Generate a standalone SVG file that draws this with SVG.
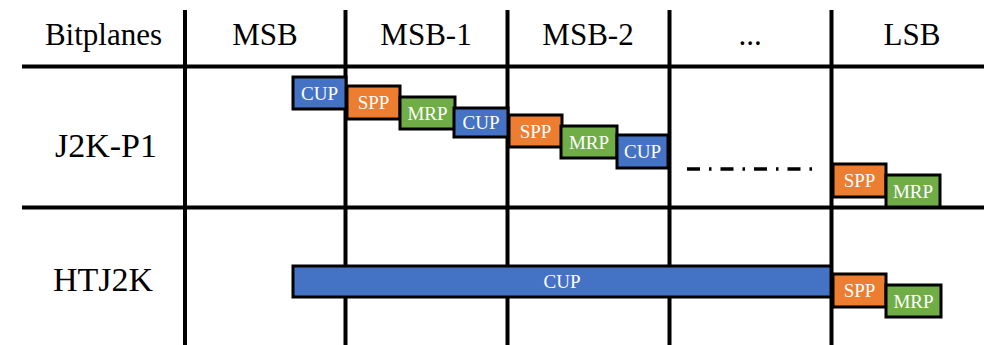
<svg xmlns="http://www.w3.org/2000/svg" width="984" height="345" viewBox="0 0 984 345">
<style>
text{font-family:'Liberation Serif','DejaVu Serif','Times New Roman',serif}
.hdr{font-size:31px;fill:#000;text-anchor:middle}
.row{font-size:34px;fill:#000;text-anchor:middle}
.lbl{font-size:19px;fill:#fff;text-anchor:middle;dominant-baseline:central}
.grid{stroke:#000;stroke-width:4;fill:none}
.cup{fill:#4472C4;stroke:#000;stroke-width:3}
.spp{fill:#ED7D31;stroke:#000;stroke-width:3}
.mrp{fill:#70AD47;stroke:#000;stroke-width:3}
.dash{stroke:#000;stroke-width:3.5;fill:none;stroke-dasharray:13 9 2.5 9}
</style>
<rect width="984" height="345" fill="#fff"/>
<g id="grid">
<line class="grid" x1="22" y1="66.5" x2="984" y2="66.5"/>
<line class="grid" x1="22" y1="207.5" x2="984" y2="207.5"/>
<line class="grid" x1="185" y1="10" x2="185" y2="345"/>
<line class="grid" x1="345.5" y1="10" x2="345.5" y2="345"/>
<line class="grid" x1="507.5" y1="10" x2="507.5" y2="345"/>
<line class="grid" x1="669.5" y1="10" x2="669.5" y2="345"/>
<line class="grid" x1="831.5" y1="10" x2="831.5" y2="345"/>
</g>
<g id="headers">
<text class="hdr" x="103.5" y="45" font-family="Liberation Serif, serif">Bitplanes</text>
<text class="hdr" x="265" y="45">MSB</text>
<text class="hdr" x="426" y="45">MSB-1</text>
<text class="hdr" x="588" y="45">MSB-2</text>
<text class="hdr" x="750" y="45">...</text>
<text class="hdr" x="912" y="45">LSB</text>
</g>
<g id="rowlabels">
<text class="row" x="106" y="157">J2K-P1</text>
<text class="row" x="103" y="291">HTJ2K</text>
</g>
<g id="j2k-cup1"><rect class="cup" x="293" y="77" width="53" height="32"/><text class="lbl" x="319.5" y="93">CUP</text></g>
<g id="j2k-spp1"><rect class="spp" x="347" y="86" width="53" height="33"/><text class="lbl" x="373.5" y="102.5">SPP</text></g>
<g id="j2k-mrp1"><rect class="mrp" x="400" y="97" width="55" height="32"/><text class="lbl" x="427.5" y="113">MRP</text></g>
<g id="j2k-cup2"><rect class="cup" x="454" y="108" width="54" height="29"/><text class="lbl" x="481" y="122.5">CUP</text></g>
<g id="j2k-spp2"><rect class="spp" x="509" y="115" width="53" height="32"/><text class="lbl" x="535.5" y="131">SPP</text></g>
<g id="j2k-mrp2"><rect class="mrp" x="561" y="126" width="56" height="32"/><text class="lbl" x="589" y="142">MRP</text></g>
<g id="j2k-cup3"><rect class="cup" x="617" y="135" width="51" height="33"/><text class="lbl" x="642.5" y="151.5">CUP</text></g>
<g id="connectors"><line class="dash" x1="687" y1="169" x2="813" y2="169"/></g>
<g id="j2k-spp3"><rect class="spp" x="833" y="164" width="53" height="33"/><text class="lbl" x="859.5" y="180.5">SPP</text></g>
<g id="j2k-mrp3"><rect class="mrp" x="886" y="175" width="54" height="32"/><text class="lbl" x="913" y="191">MRP</text></g>
<g id="ht-cup"><rect class="cup" x="293" y="266" width="538" height="31"/><text class="lbl" x="562" y="281.5">CUP</text></g>
<g id="ht-spp"><rect class="spp" x="833" y="274" width="53" height="33"/><text class="lbl" x="859.5" y="290.5">SPP</text></g>
<g id="ht-mrp"><rect class="mrp" x="886" y="285" width="55" height="32"/><text class="lbl" x="913.5" y="301">MRP</text></g>
</svg>
